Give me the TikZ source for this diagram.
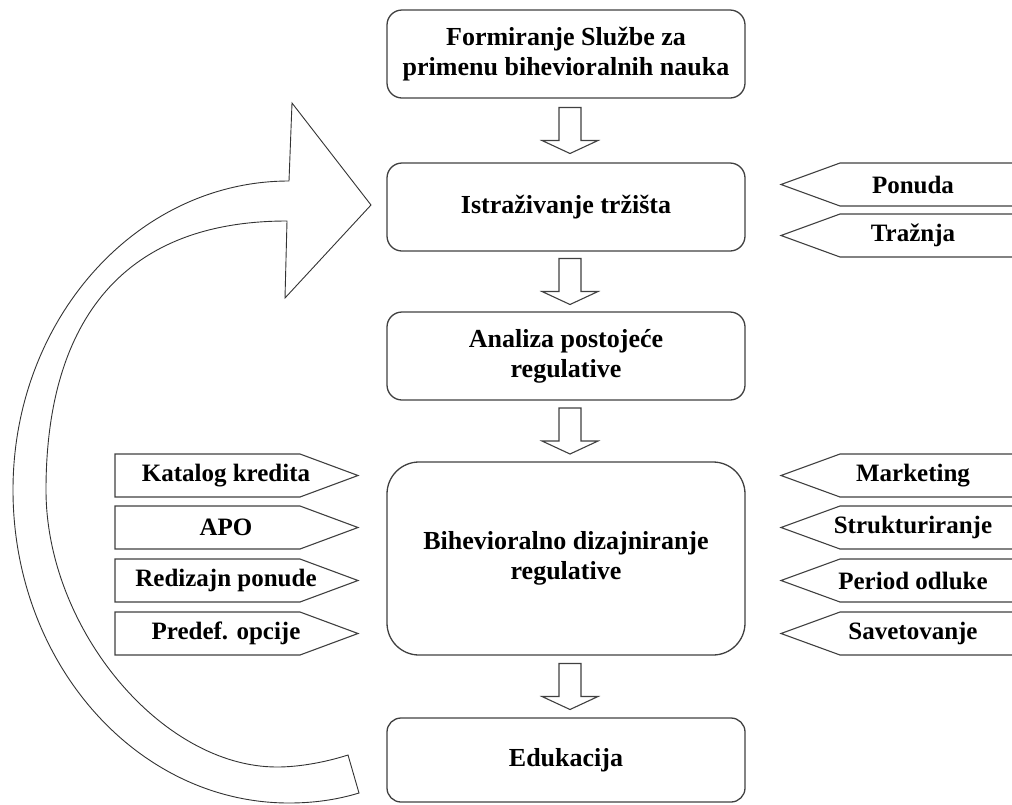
\documentclass[tikz,border=0pt]{standalone}
\usepackage{fontspec}
\setmainfont{Liberation Serif}
\usetikzlibrary{calc}
\begin{document}
\begin{tikzpicture}[x=1pt,y=-1pt,
  stage/.style={draw=black!75, line width=1.3pt, rounded corners=15pt,
    minimum width=358pt, minimum height=88pt, align=center, inner sep=0pt,
    font=\fontsize{26}{30}\selectfont\bfseries},
  outline/.style={draw=black!75, line width=1.1pt, fill=white},
  tagfont/.style={inner sep=0pt, font=\fontsize{25}{30}\selectfont\bfseries},
  pics/tagR/.style={code={
    \draw[outline] (-111,-21.5) -- (74,-21.5) -- (132,0) -- (74,21.5) -- (-111,21.5) -- cycle;
    \node[tagfont] (-t) at (0,0) {#1};}},
  pics/tagL/.style={code={
    \draw[outline] (111,-21.5) -- (-73,-21.5) -- (-132,0) -- (-73,21.5) -- (111,21.5) -- cycle;
    \node[tagfont] (-t) at (0,0) {#1};}},
  pics/down/.style={code={
    \draw[outline] (-11,-23) -- (11,-23) -- (11,10) -- (28,10) -- (0,23) -- (-28,10) -- (-11,10) -- cycle;}},
]
\path[use as bounding box] (0,0) rectangle (1012,804);
\clip (0,0) rectangle (1012,804);

% feedback loop: curved block arrow back to market research
\draw[draw=black!80, line width=0.9pt, fill=white]
  (287,221) -- (285,298) -- (371,205) -- (292,103) -- (289,181)
  .. controls (136.6,181) and (13,319.4) .. (13,490)
  .. controls (13,662.8) and (136.6,803) .. (289,803)
  .. controls (313,803) and (336,800) .. (359,793)
  -- (348,755)
  .. controls (326,762) and (300,767) .. (277,767)
  .. controls (161.5,767) and (46,628.5) .. (46,490)
  .. controls (46,342) and (106,221) .. (287,221) -- cycle;

% process stages
\node[stage] (b1) at (566,54) {Formiranje Službe za\\primenu bihevioralnih nauka};
\node[stage] (b2) at (566,207) {Istraživanje tržišta};
\node[stage] (b3) at (566,356) {Analiza postojeće\\regulative};
\node[stage, minimum height=193pt, rounded corners=32pt] (b4) at (566,558.5) {Bihevioralno dizajniranje\\regulative};
\node[stage, minimum height=84pt, rounded corners=14pt] (b5) at (566,760) {Edukacija};

% flow arrows between stages
\pic (a1) at ($(b1.south)!0.5!(b2.north)+(4,0)$) {down};
\pic (a2) at ($(b2.south)!0.5!(b3.north)+(4,0)$) {down};
\pic (a3) at ($(b3.south)!0.5!(b4.north)+(4,0)$) {down};
\pic (a4) at ($(b4.south)!0.5!(b5.north)+(4,0)$) {down};

% inputs to market research
\pic (ponuda) at (913,184.5) {tagL={Ponuda}};
\pic (traznja) at (913,235.5) {tagL={Tražnja}};

% instruments on the left
\pic (katalog) at (226,475.5) {tagR={Katalog kredita}};
\pic (apo) at (226,527.5) {tagR={APO}};
\pic (redizajn) at (226,580.5) {tagR={Redizajn ponude}};
\pic (predef) at (226,633.5) {tagR={Predef. opcije}};

% instruments on the right
\pic (marketing) at (913,475.5) {tagL={Marketing}};
\pic (struktura) at (913,527.5) {tagL={Strukturiranje}};
\pic (period) at (913,580.5) {tagL={Period odluke}};
\pic (savet) at (913,633.5) {tagL={Savetovanje}};
\end{tikzpicture}
\end{document}
